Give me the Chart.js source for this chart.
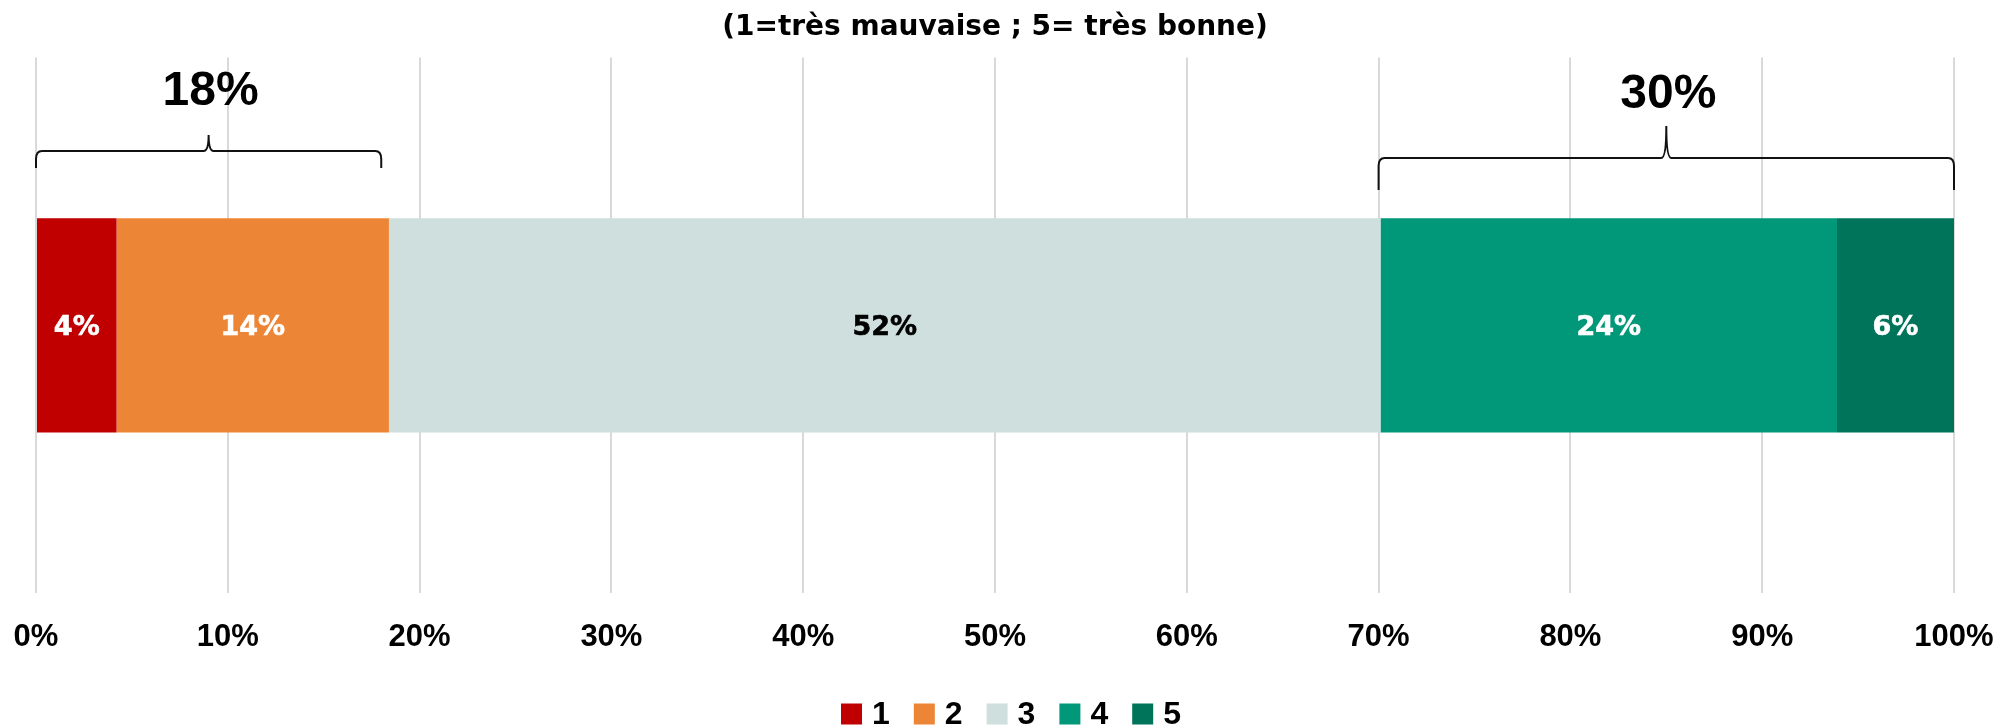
<!DOCTYPE html>
<html>
<head>
<meta charset="utf-8">
<script src="https://cdn.jsdelivr.net/npm/chart.js@4/dist/chart.umd.min.js"></script>
<style>
  html, body { margin: 0; padding: 0; background: #ffffff; }
  #wrap { width: 2010px; height: 726px; position: relative; }
</style>
</head>
<body>
<div id="wrap"><canvas id="c" width="2010" height="726"></canvas></div>
<script>
// ---- data ----
const categories = [''];
const seriesNames = ['1', '2', '3', '4', '5'];
const seriesValues = [4.2, 14.2, 51.7, 23.8, 6.1];
const seriesLabels = ['4%', '14%', '52%', '24%', '6%'];
const seriesColors = ['#C00000', '#ED8536', '#CFDFDD', '#009879', '#00735B'];
const labelColors = ['#ffffff', '#ffffff', '#000000', '#ffffff', '#ffffff'];
const tickValues = [0, 10, 20, 30, 40, 50, 60, 70, 80, 90, 100];
const braceFrom = [0, 70];
const braceTo = [18, 100];
const braceLabels = ['18%', '30%'];
const titleText = '(1=très mauvaise ; 5= très bonne)';

const datasets = seriesNames.map((n, i) => ({
  label: n,
  data: [seriesValues[i]],
  backgroundColor: seriesColors[i],
  borderWidth: 0,
  barPercentage: 0.4,
  categoryPercentage: 1.0
}));

const dataLabelPlugin = {
  id: 'dataLabels',
  afterDatasetsDraw(chart) {
    const ctx = chart.ctx;
    ctx.save();
    ctx.font = 'bold 27px "DejaVu Sans"';
    ctx.textAlign = 'center';
    ctx.textBaseline = 'middle';
    chart.data.datasets.forEach((ds, i) => {
      const meta = chart.getDatasetMeta(i);
      meta.data.forEach((el) => {
        const p = el.getProps(['x', 'y', 'base'], true);
        ctx.fillStyle = labelColors[i];
        ctx.strokeStyle = labelColors[i];
        ctx.lineWidth = 0.6;
        ctx.fillText(seriesLabels[i], (p.x + p.base) / 2, p.y + 3);
        ctx.strokeText(seriesLabels[i], (p.x + p.base) / 2, p.y + 3);
      });
    });
    ctx.restore();
  }
};

const braceStyles = [
  { yLine: 151, yEnd: 168, yTip: 135, yText: 92 },
  { yLine: 158, yEnd: 190, yTip: 126, yText: 95 }
];

const bracePlugin = {
  id: 'braces',
  afterDraw(chart) {
    const ctx = chart.ctx;
    const xs = chart.scales.x;
    ctx.save();
    ctx.strokeStyle = '#111111';
    ctx.lineWidth = 2;
    braceFrom.forEach((f, i) => {
      const x0 = xs.getPixelForValue(f);
      const x1 = xs.getPixelForValue(braceTo[i]);
      const xm = (x0 + x1) / 2;
      const s = braceStyles[i];
      const r = 6, rt = 5;
      const cv = Math.min(8, (s.yEnd - s.yLine) * 0.5);
      ctx.beginPath();
      ctx.moveTo(x0, s.yEnd);
      ctx.lineTo(x0, s.yLine + cv);
      ctx.quadraticCurveTo(x0, s.yLine, x0 + r, s.yLine);
      ctx.lineTo(xm - rt, s.yLine);
      ctx.bezierCurveTo(xm - 1.5, s.yLine, xm, s.yLine - (s.yLine - s.yTip) * 0.35, xm, s.yTip);
      ctx.bezierCurveTo(xm, s.yLine - (s.yLine - s.yTip) * 0.35, xm + 1.5, s.yLine, xm + rt, s.yLine);
      ctx.lineTo(x1 - r, s.yLine);
      ctx.quadraticCurveTo(x1, s.yLine, x1, s.yLine + cv);
      ctx.lineTo(x1, s.yEnd);
      ctx.stroke();
      ctx.fillStyle = '#000000';
      ctx.font = 'bold 48px "Liberation Sans"';
      ctx.textAlign = 'center';
      ctx.textBaseline = 'middle';
      ctx.fillText(braceLabels[i], xm + 2, s.yText);
    });
    ctx.restore();
  }
};

const legendPlugin = {
  id: 'customLegend',
  afterDraw(chart) {
    const ctx = chart.ctx;
    ctx.save();
    ctx.font = 'bold 32px "Liberation Sans"';
    ctx.textBaseline = 'middle';
    ctx.textAlign = 'left';
    const box = 21, gap = 10, spacing = 24, cy = 714;
    const items = chart.data.datasets.map(ds => ({ text: ds.label, color: ds.backgroundColor }));
    const widths = items.map(it => box + gap + ctx.measureText(it.text).width);
    const total = widths.reduce((a, b) => a + b, 0) + spacing * (items.length - 1);
    let x = 1011 - total / 2;
    items.forEach((it, i) => {
      ctx.fillStyle = it.color;
      ctx.fillRect(x, cy - box / 2, box, box);
      ctx.fillStyle = '#000000';
      ctx.fillText(it.text, x + box + gap, cy + 1);
      x += widths[i] + spacing;
    });
    ctx.restore();
  }
};

new Chart(document.getElementById('c'), {
  type: 'bar',
  data: { labels: categories, datasets: datasets },
  options: {
    indexAxis: 'y',
    responsive: false,
    animation: false,
    devicePixelRatio: 1,
    layout: { padding: { left: 36, right: 56, top: 0, bottom: 71 } },
    plugins: {
      legend: { display: false },
      tooltip: { enabled: false },
      title: {
        display: true,
        text: titleText,
        color: '#000000',
        font: { family: '"DejaVu Sans"', size: 28, weight: 'bold', lineHeight: 1.2 },
        padding: { top: 11, bottom: 13 }
      }
    },
    scales: {
      x: {
        stacked: true,
        min: 0,
        max: 100,
        afterBuildTicks(scale) { scale.ticks = tickValues.map(v => ({ value: v })); },
        afterFit(scale) {
          scale.paddingLeft = 0;
          scale.paddingRight = 0;
          scale.height = 62;
        },
        ticks: {
          callback: (v) => v + '%',
          color: '#000000',
          padding: 26,
          maxRotation: 0,
          font: { family: '"Liberation Sans"', size: 31, weight: 'bold', lineHeight: 1.2 }
        },
        grid: { color: '#D9D9D9', lineWidth: 2, drawTicks: false },
        border: { display: false }
      },
      y: {
        stacked: true,
        display: false,
        grid: { display: false }
      }
    }
  },
  plugins: [dataLabelPlugin, bracePlugin, legendPlugin]
});
</script>
</body>
</html>
